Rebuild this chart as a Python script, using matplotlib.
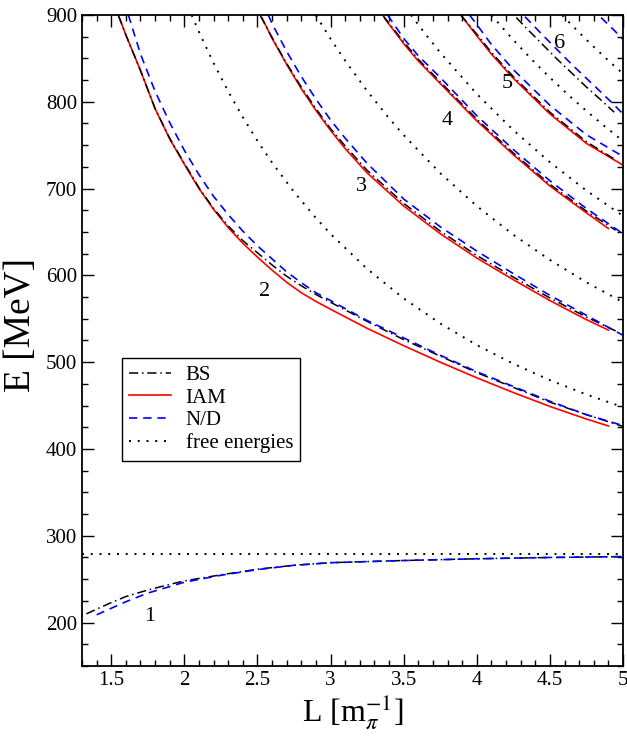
import matplotlib
matplotlib.use("Agg")
import matplotlib.pyplot as plt
from matplotlib.ticker import MultipleLocator, FuncFormatter

plt.rcParams['font.family'] = ['Liberation Serif', 'DejaVu Serif']
plt.rcParams['mathtext.fontset'] = 'stix'

# free two-pion energies (dotted), one pair of lists per shell
free0_L = [1.3, 5.0]
free0_E = [279.1, 279.1]
free1_L = [2.05, 2.1, 2.2, 2.3, 2.4, 2.5, 2.6, 2.75, 2.9, 3.0, 3.25, 3.5, 3.75, 4.0, 4.25, 4.5, 4.75, 5.0]
free1_E = [899.8, 880.5, 844.6, 811.9, 782.2, 754.9, 729.9, 696.1, 666.0, 647.8, 607.5, 573.5, 544.6, 519.7, 498.2, 479.3, 462.8, 448.2]
free2_L = [2.9, 3.0, 3.1, 3.25, 3.4, 3.5, 3.75, 4.0, 4.25, 4.5, 4.75, 5.0]
free2_E = [899.6, 872.5, 847.3, 812.5, 781.0, 761.6, 717.8, 679.9, 646.8, 617.8, 592.0, 569.1]
free3_L = [3.55, 3.65, 3.75, 4.0, 4.25, 4.5, 4.75, 5.0]
free3_E = [900.0, 877.7, 856.7, 809.0, 767.3, 730.4, 697.7, 668.5]
free4_L = [4.1, 4.25, 4.375, 4.5, 4.625, 4.75, 4.875, 5.0]
free4_E = [899.8, 871.2, 848.9, 827.9, 808.1, 789.4, 771.7, 754.9]
free5_L = [4.585, 4.7, 4.8, 4.9, 5.0]
free5_E = [899.6, 879.8, 863.3, 847.5, 832.4]

# level 1 (below threshold)
bs1_L = [1.33, 1.4, 1.5, 1.6, 1.75, 1.9, 2.0, 2.25, 2.5, 2.75, 3.0, 3.5, 4.0, 4.5, 5.0]
bs1_E = [210, 215.5, 223, 230, 237.5, 244, 248, 255, 261.5, 266, 269, 271.5, 273.5, 275, 276]
nd1_L = [1.4, 1.5, 1.6, 1.75, 1.9, 2.0, 2.25, 2.5, 2.75, 3.0, 3.5, 4.0, 4.5, 5.0]
nd1_E = [209, 216.5, 224, 234, 241.5, 246.5, 254.5, 261, 266, 269, 271.5, 273.5, 275, 276]

# level 2
iam2_L = [1.55, 1.6, 1.7, 1.8, 1.9, 2.0, 2.1, 2.2, 2.3, 2.4, 2.5, 2.6, 2.7, 2.8, 2.9, 3.0, 3.25, 3.5, 3.75, 4.0, 4.25, 4.5, 4.75, 4.9]
iam2_E = [899, 877, 836, 792, 757, 728, 700, 676, 655, 637, 621, 606, 592, 580, 570, 561, 539, 519, 500, 482, 465, 449, 434.5, 426.5]
bs2_L = [1.55, 1.6, 1.7, 1.8, 1.9, 2.0, 2.1, 2.2, 2.3, 2.4, 2.5, 2.6, 2.7, 2.8, 2.9, 3.0, 3.25, 3.5, 3.75, 4.0, 4.25, 4.5, 4.75, 5.0]
bs2_E = [899, 877, 836, 792, 758, 729, 701, 677, 657, 640, 626, 612, 599, 588, 578, 569, 547, 526, 507, 488, 471, 454, 439.5, 426]
nd2_L = [1.617, 1.7, 1.8, 1.9, 2.0, 2.1, 2.2, 2.3, 2.4, 2.5, 2.6, 2.7, 2.8, 2.9, 3.0, 3.25, 3.5, 3.75, 4.0, 4.25, 4.5, 4.75, 5.0]
nd2_E = [900, 855, 812, 776, 744, 716, 691, 670, 651, 634, 619, 604, 591.5, 580, 571, 548, 528, 508, 489, 472, 455, 439.5, 427]

# level 3
iam3_L = [2.53, 2.6, 2.7, 2.8, 2.9, 3.0, 3.1, 3.25, 3.5, 3.75, 4.0, 4.25, 4.5, 4.75, 4.9]
iam3_E = [897, 873, 843, 815, 790, 767, 746, 718, 680, 648, 620, 595, 571, 549, 537]
bs3_L = [2.52, 2.6, 2.7, 2.8, 2.9, 3.0, 3.1, 3.25, 3.5, 3.75, 4.0, 4.25, 4.5, 4.75, 4.95]
bs3_E = [899, 874, 844, 817, 792, 769, 749, 721, 683, 651, 623, 598, 574, 552, 536]
nd3_L = [2.574, 2.6, 2.7, 2.8, 2.9, 3.0, 3.1, 3.25, 3.5, 3.75, 4.0, 4.25, 4.5, 4.75, 5.0]
nd3_E = [900, 890, 858, 829, 803, 779, 758, 729, 688, 656, 628, 602, 577, 554, 531]

# level 4
iam4_L = [3.37, 3.5, 3.6, 3.75, 4.0, 4.25, 4.5, 4.75, 4.9]
iam4_E = [896, 867, 847, 821, 778, 739, 703, 672, 654]
bs4_L = [3.36, 3.5, 3.6, 3.75, 4.0, 4.25, 4.5, 4.75, 4.95]
bs4_E = [899, 869, 849, 823, 780, 741, 705, 674, 652]
nd4_L = [3.39, 3.5, 3.6, 3.75, 4.0, 4.25, 4.5, 4.75, 5.0]
nd4_E = [900, 873, 853, 828, 784, 745, 709, 677, 648]

# level 5
iam5_L = [3.9, 4.0, 4.1, 4.25, 4.5, 4.75, 5.0]
iam5_E = [898, 876, 855, 827, 786, 752, 727]
bs5_L = [3.89, 4.0, 4.1, 4.25, 4.5, 4.75, 4.95]
bs5_E = [900, 878, 857, 829, 788, 754, 733]
nd5_L = [3.95, 4.0, 4.1, 4.25, 4.5, 4.75, 5.0]
nd5_E = [900, 889, 866, 837, 796, 762, 737]

# level 6 and the start of level 7
bs6_L = [4.27, 4.35, 4.45, 4.55, 4.65, 4.75, 4.85, 4.94]
bs6_E = [897, 883, 866, 849, 833, 817, 802, 788]
nd6_L = [4.33, 4.45, 4.55, 4.65, 4.75, 4.85, 4.93, 5.0]
nd6_E = [898, 877, 860, 843, 827, 811, 798, 786]
nd7_L = [4.85, 4.93, 5.0]
nd7_E = [897, 884, 872]

level_names = ['1', '2', '3', '4', '5', '6']
level_L = [1.764, 2.551, 3.209, 3.798, 4.206, 4.568]
level_E = [206.8, 580.9, 702.0, 778.0, 821.0, 867.6]

fig = plt.figure(figsize=(6.27, 7.38), dpi=100)
ax = fig.add_axes([0.1308, 0.0976, 0.8628, 0.8821])

dot = dict(color='black', linestyle=(0, (1, 3.5)), linewidth=1.4)
bs = dict(color='black', linestyle=(0, (6, 2.5, 1, 2.5)), linewidth=1.1)
iam = dict(color='red', linestyle='-', linewidth=1.2)
nd = dict(color='blue', linestyle=(0, (5, 3.5)), linewidth=1.2)

for xs, ys in [(free0_L, free0_E), (free1_L, free1_E), (free2_L, free2_E),
               (free3_L, free3_E), (free4_L, free4_E), (free5_L, free5_E)]:
    ax.plot(xs, ys, **dot)
for xs, ys in [(iam2_L, iam2_E), (iam3_L, iam3_E), (iam4_L, iam4_E), (iam5_L, iam5_E)]:
    ax.plot(xs, ys, **iam)
for xs, ys in [(bs1_L, bs1_E), (bs2_L, bs2_E), (bs3_L, bs3_E), (bs4_L, bs4_E),
               (bs5_L, bs5_E), (bs6_L, bs6_E)]:
    ax.plot(xs, ys, **bs)
for xs, ys in [(nd1_L, nd1_E), (nd2_L, nd2_E), (nd3_L, nd3_E), (nd4_L, nd4_E),
               (nd5_L, nd5_E), (nd6_L, nd6_E), (nd7_L, nd7_E)]:
    ax.plot(xs, ys, **nd)

for name, x, y in zip(level_names, level_L, level_E):
    ax.text(x, y, name, fontsize=16, ha='center', va='center')

# legend from proxy lines
h_bs, = ax.plot([], [], label='BS', **bs)
h_iam, = ax.plot([], [], label='IAM', **iam)
h_nd, = ax.plot([], [], label='N/D', **nd)
h_dot, = ax.plot([], [], label='free energies', **dot)
leg = ax.legend(handles=[h_bs, h_iam, h_nd, h_dot], loc='upper left',
                bbox_to_anchor=(0.074, 0.473), borderaxespad=0, fontsize=15,
                fancybox=False, framealpha=1, edgecolor='black',
                handlelength=2.0, handletextpad=0.7, labelspacing=0.15,
                borderpad=0.35)
leg.get_frame().set_linewidth(1.0)

ax.set_xlim(1.3, 5.0)
ax.set_ylim(150, 900)
ax.xaxis.set_major_locator(MultipleLocator(0.5))
ax.xaxis.set_minor_locator(MultipleLocator(0.1))
ax.yaxis.set_major_locator(MultipleLocator(100))
ax.yaxis.set_minor_locator(MultipleLocator(25))
ax.xaxis.set_major_formatter(FuncFormatter(lambda v, p: '%g' % v))
ax.tick_params(which='both', direction='in', top=True, right=True, labelsize=15, width=1.0)
ax.tick_params(which='major', length=8.5)
ax.tick_params(which='minor', length=4.5)
for s in ax.spines.values():
    s.set_linewidth(1.3)

ax.set_xlabel(r'L [m$_\pi^{-1}$]', fontsize=23)
ax.set_ylabel('E [MeV]', fontsize=27)
ax.yaxis.set_label_coords(-0.082, 0.524)
ax.xaxis.set_label_coords(0.5, -0.042)

fig.savefig('out.png', dpi=100)
